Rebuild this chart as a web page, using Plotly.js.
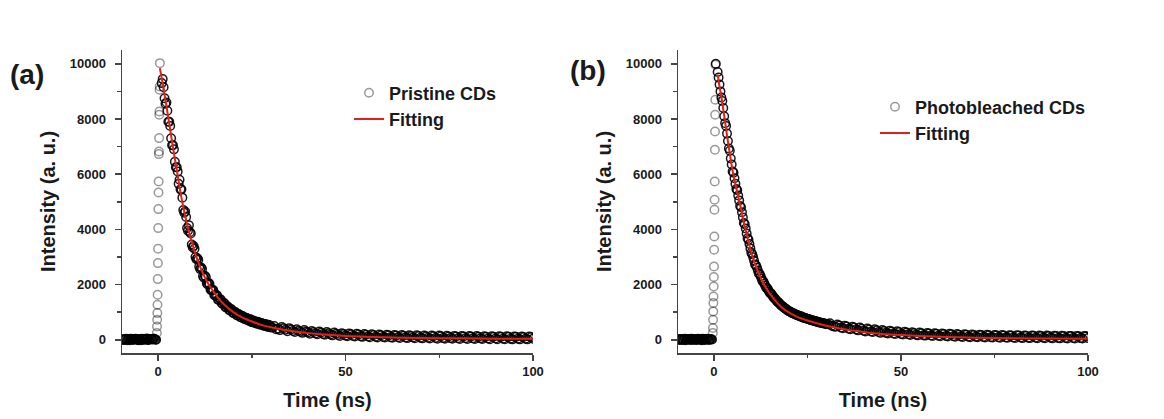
<!DOCTYPE html>
<html><head><meta charset="utf-8">
<script src="https://cdn.plot.ly/plotly-3.0.1.min.js"></script>
<style>html,body{margin:0;padding:0;background:#fff}#chart{width:1164px;height:419px}</style>
</head><body><div id="chart"></div>
<script>
// ---------- data ----------
const preTime = [-9.5,-9,-8.5,-8,-7.5,-7,-6.5,-6,-5.5,-5,-4.5,-4,-3.5,-3,-2.5,-2,-1.5,-1,-0.5];
const preTime2 = [-9.25,-8.75,-8.25,-7.75,-7.25,-6.75,-6.25,-5.75,-5.25,-4.75,-4.25,-3.75,-3.25,-2.75,-2.25,-1.75,-1.25,-0.75];
const decayTime2 = [1.25,1.75,2.25,2.75,3.25,3.75,4.25,4.75,5.25,5.75,6.25,6.75,7.25,7.75,8.25,8.75,9.25,9.75,
  10.25,10.75,11.25,11.75,12.25,12.75,13.25,13.75,14.25,14.75,15.25,15.75,16.25,16.75,17.25,17.75,18.25,18.75,19.25,19.75,
  20.25,20.75,21.25,21.75,22.25,22.75,23.25,23.75,24.25,24.75,25.25,25.75,26.25,26.75,27.25,27.75,28.25,28.75,29.25,29.75];
const tailTime = [31,32,33,34,35,36,37,38,39,40,41,42,43,44,45,46,47,48,49,50,
  51,52,53,54,55,56,57,58,59,60,61,62,63,64,65,66,67,68,69,70,
  71,72,73,74,75,76,77,78,79,80,81,82,83,84,85,86,87,88,89,90,
  91,92,93,94,95,96,97,98,99,100];
const tailTime2 = [30.5,31.5,32.5,33.5,34.5,35.5,36.5,37.5,38.5,39.5,40.5,41.5,42.5,43.5,44.5,45.5,46.5,47.5,48.5,49.5,
  50.5,51.5,52.5,53.5,54.5,55.5,56.5,57.5,58.5,59.5,60.5,61.5,62.5,63.5,64.5,65.5,66.5,67.5,68.5,69.5,
  70.5,71.5,72.5,73.5,74.5,75.5,76.5,77.5,78.5,79.5,80.5,81.5,82.5,83.5,84.5,85.5,86.5,87.5,88.5,89.5,
  90.5,91.5,92.5,93.5,94.5,95.5,96.5,97.5,98.5,99.5];

// Panel (a): Pristine CDs
const preIntensityA = [20,-10,35,5,-20,25,10,40,-5,30,-15,20,5,45,-10,25,10,35,0];
const preIntensityA2 = [5,30,-15,20,40,-5,15,30,-20,10,35,0,25,-10,30,15,40,5];
const riseTimeA = [-0.30,-0.26,-0.22,-0.18,-0.14,-0.10,-0.06,-0.02,0.02,0.06,0.10,0.14,0.18,0.22,0.26,0.30,0.34,0.38,0.42,0.46,0.50];
const riseIntensityA = [242,483,725,966,1268,1630,2198,2778,3297,4046,4734,5338,5737,6727,6823,7307,8152,8273,9058,9179,10024];
const decayTimeA = [1,1.5,2,2.5,3,3.5,4,4.5,5,5.5,6,6.5,7,7.5,8,8.5,9,9.5,10,10.5,
  11,11.5,12,12.5,13,13.5,14,14.5,15,15.5,16,16.5,17,17.5,18,18.5,19,19.5,20,20.5,
  21,21.5,22,22.5,23,23.5,24,24.5,25,25.5,26,26.5,27,27.5,28,28.5,29,29.5,30];
const decayIntensityA = [9300,9150,8550,8300,7900,7300,7050,6450,6250,5650,5450,5150,4600,4450,3950,3900,3450,3400,3000,2950,
  2650,2620,2300,2320,2050,2060,1820,1800,1620,1620,1450,1480,1320,1340,1180,1210,1070,1110,970,1010,
  890,930,820,860,750,800,700,740,640,700,600,650,550,610,520,570,480,540,450];
const decayIntensityA2 = [9450,8750,8600,7900,7750,7050,6900,6250,6100,5800,5450,4700,4650,4050,4150,3850,3350,3300,
  2920,2900,2560,2560,2250,2270,2000,2020,1790,1800,1600,1610,1440,1450,1300,1310,1170,1180,1060,1080,
  960,990,880,910,810,840,750,780,690,730,630,670,590,640,550,600,510,560,470,520];
const tailIntensityA = [500,400,460,360,420,320,380,290,350,260,
  320,230,300,210,280,190,260,170,240,150,
  230,140,220,130,210,120,200,110,190,100,
  180,95,175,90,170,85,165,80,160,75,
  155,70,150,65,150,60,145,60,140,55,
  140,55,135,50,135,50,130,45,130,45,
  125,40,125,40,120,40,120,35,120,35];
const tailIntensityA2 = [440,380,350,420,310,370,280,330,250,300,
  220,280,200,260,180,240,160,220,140,210,
  130,200,115,190,105,180,95,170,85,165,
  80,160,70,150,65,145,60,140,55,135,
  50,130,45,130,40,125,40,120,35,120,
  30,115,30,115,25,110,25,110,20,110,
  20,105,20,105,15,105,15,100,15,100];
const fitTimeA = [0.5,1,2,3,4,5,6,7,8,9,10,11,12,13,14,16,18,20,22,25,28,32,36,40,45,50,60,70,80,90,100];
const fitA = [9840,9480,8680,7830,6960,6170,5330,4650,4050,3550,3100,2720,2400,2130,1900,1520,1230,1010,840,660,520,400,310,240,180,140,90,65,50,40,35];

// Panel (b): Photobleached CDs
const preIntensityB = [15,-10,30,0,-15,25,5,35,-5,20,-10,30,0,40,-5,20,5,30,10];
const preIntensityB2 = [25,5,-10,35,10,20,-5,30,15,0,40,10,-15,25,5,35,-5,20];
const riseTimeB = [-0.30,-0.26,-0.22,-0.18,-0.14,-0.10,-0.06,-0.02,0.02,0.06,0.10,0.14,0.18,0.22,0.26,0.30,0.34,0.38,0.42];
const riseIntensityB = [242,423,725,1027,1329,1570,1932,2271,2657,3261,3744,4710,5072,5737,6884,7548,8152,8696,9964];
const decayTimeB = [0.5,1,1.5,2,2.5,3,3.5,4,4.5,5,5.5,6,6.5,7,7.5,8,8.5,9,9.5,10,10.5,
  11,11.5,12,12.5,13,13.5,14,14.5,15,15.5,16,16.5,17,17.5,18,18.5,19,19.5,20,20.5,
  21,21.5,22,22.5,23,23.5,24,24.5,25,25.5,26,26.5,27,27.5,28,28.5,29,29.5,30];
const decayIntensityB = [10000,9700,9250,8780,8400,7850,7470,6930,6570,6100,5850,5460,5230,4850,4620,4230,4030,3680,3470,3150,2990,
  2730,2620,2400,2300,2120,2030,1880,1810,1690,1630,1520,1460,1370,1320,1240,1200,1130,1090,1030,1010,
  960,940,900,880,840,830,790,780,750,740,710,700,670,660,630,620,600,590,570];
const decayIntensityB2 = [9500,9000,8650,8100,7750,7200,6850,6350,6050,5650,5420,5050,4800,4430,4190,3850,3620,3310,
  3100,2860,2700,2510,2380,2210,2110,1960,1870,1750,1680,1580,1500,1420,1360,1280,1220,1160,1120,1060,
  1030,980,960,920,900,870,850,820,800,770,750,720,710,680,670,640,630,610,600,580];
const tailIntensityB = [600,480,550,440,510,400,470,370,440,330,
  410,300,380,280,350,250,330,230,310,210,
  290,195,275,180,260,165,245,155,235,145,
  225,135,215,125,205,115,195,110,190,105,
  185,100,180,95,175,90,170,85,165,80,
  160,80,155,75,155,75,150,70,150,70,
  145,65,145,65,140,65,140,60,140,60];
const tailIntensityB2 = [560,510,470,520,420,480,380,440,340,400,
  300,370,280,340,250,320,230,300,210,280,
  190,260,175,245,160,235,150,225,140,215,
  130,205,120,195,110,185,100,180,95,175,
  90,170,85,165,80,160,75,155,70,150,
  65,150,60,145,60,145,55,140,55,140,
  50,135,50,135,45,135,45,130,45,130];
const fitTimeB = [1,1.5,2,3,4,5,6,7,8,9,10,11,12,13,14,16,18,20,22,25,28,32,36,40,45,50,60,70,80,90,100];
const fitB = [9620,9170,8800,7880,6950,6120,5480,4890,4250,3700,3150,2730,2400,2110,1860,1480,1190,990,850,700,580,450,350,280,210,170,110,75,55,45,40];

const xTickVals = [0,50,100];
const xTickText = ['0','50','100'];
const yTickVals = [0,2000,4000,6000,8000,10000];
const yTickText = ['0','2000','4000','6000','8000','10000'];

// ---------- assembly ----------
// rising-edge points first (isolated, light circles), then the dense parts
const LIGHT = 'rgba(0,0,0,0.40)', DENSE = 'rgba(0,0,0,0.9)';
function series(rise, rest){ return rise.concat.apply(rise, rest); }
function colours(nRise, nRest){ return Array(nRise).fill(LIGHT).concat(Array(nRest).fill(DENSE)); }

const timeA = series(riseTimeA, [preTime, preTime2, decayTimeA, decayTime2, tailTime, tailTime2]);
const intensityA = series(riseIntensityA, [preIntensityA, preIntensityA2, decayIntensityA, decayIntensityA2, tailIntensityA, tailIntensityA2]);
const timeB = series(riseTimeB, [preTime, preTime2, decayTimeB, decayTime2, tailTime, tailTime2]);
const intensityB = series(riseIntensityB, [preIntensityB, preIntensityB2, decayIntensityB, decayIntensityB2, tailIntensityB, tailIntensityB2]);

const W = 1164, H = 419;
const FONT = 'Liberation Sans, Arial, Helvetica, sans-serif';
const INK = '#1a1a1a';
const AXC = '#444';

function scatterMarker(n){
  return {symbol:'circle-open', size:8.5, color:colours(n.rise, n.total - n.rise), line:{width:1.5}};
}
const fitLine = {color:'#e3201b', width:2, shape:'spline', smoothing:0.6};

const traces = [
  {x:timeA, y:intensityA, mode:'markers', name:'Pristine CDs', marker:scatterMarker({rise:riseTimeA.length, total:timeA.length}), xaxis:'x', yaxis:'y', legend:'legend'},
  {x:fitTimeA, y:fitA, mode:'lines', name:'Fitting', line:fitLine, xaxis:'x', yaxis:'y', legend:'legend'},
  {x:timeB, y:intensityB, mode:'markers', name:'Photobleached CDs', marker:scatterMarker({rise:riseTimeB.length, total:timeB.length}), xaxis:'x2', yaxis:'y2', legend:'legend2'},
  {x:fitTimeB, y:fitB, mode:'lines', name:'Fitting', line:fitLine, xaxis:'x2', yaxis:'y2', legend:'legend2'}
];

function xAxis(domain, anchor){
  return {domain:domain, anchor:anchor, range:[-9.6,100], tickvals:xTickVals, ticktext:xTickText,
    showline:true, linecolor:AXC, linewidth:1.5, ticks:'outside', ticklen:6, tickwidth:1.5, tickcolor:AXC,
    minor:{tickvals:[25,75], ticks:'outside', ticklen:3.5, tickwidth:1.5, tickcolor:AXC, showgrid:false},
    showgrid:false, zeroline:false, ticklabelstandoff:0,
    tickfont:{family:FONT, size:13, weight:'bold', color:INK},
    title:{text:'Time (ns)', font:{family:FONT, size:20, weight:'bold', color:INK}, standoff:15}};
}
function yAxis(domain, anchor){
  return {domain:domain, anchor:anchor, range:[-480,10500], tickvals:yTickVals, ticktext:yTickText,
    showline:true, linecolor:AXC, linewidth:1.5, ticks:'outside', ticklen:6, tickwidth:1.5, tickcolor:AXC,
    minor:{tickvals:[1000,3000,5000,7000,9000], ticks:'outside', ticklen:3.5, tickwidth:1.5, tickcolor:AXC, showgrid:false},
    showgrid:false, zeroline:false, ticklabelstandoff:6,
    tickfont:{family:FONT, size:13, weight:'bold', color:INK},
    title:{text:'Intensity (a. u.)', font:{family:FONT, size:20, weight:'bold', color:INK}, standoff:8}};
}
const yDom = [1-353/H, 1-50/H];

const layout = {
  width:W, height:H, margin:{l:0,r:0,t:0,b:0},
  paper_bgcolor:'#fff', plot_bgcolor:'#fff',
  font:{family:FONT, color:INK},
  xaxis: xAxis([122/W, 533/W], 'y'),
  yaxis: yAxis(yDom, 'x'),
  xaxis2: xAxis([678/W, 1088/W], 'y2'),
  yaxis2: yAxis(yDom, 'x2'),
  legend:{x:349/W, y:1-74.5/H, xanchor:'left', yanchor:'top', bgcolor:'rgba(0,0,0,0)', borderwidth:0,
    font:{family:FONT, size:18, weight:'bold', color:INK}, itemwidth:30, tracegroupgap:0},
  legend2:{x:875/W, y:1-88.5/H, xanchor:'left', yanchor:'top', bgcolor:'rgba(0,0,0,0)', borderwidth:0,
    font:{family:FONT, size:18, weight:'bold', color:INK}, itemwidth:30, tracegroupgap:0},
  showlegend:true,
  annotations:[
    {text:'(a)', xref:'paper', yref:'paper', x:8/W, y:1-74/H, xanchor:'left', yanchor:'middle', showarrow:false,
      font:{family:FONT, size:28, weight:'bold', color:INK}},
    {text:'(b)', xref:'paper', yref:'paper', x:568/W, y:1-70/H, xanchor:'left', yanchor:'middle', showarrow:false,
      font:{family:FONT, size:28, weight:'bold', color:INK}}
  ]
};

Plotly.newPlot('chart', traces, layout, {staticPlot:true, displayModeBar:false});
</script></body></html>
